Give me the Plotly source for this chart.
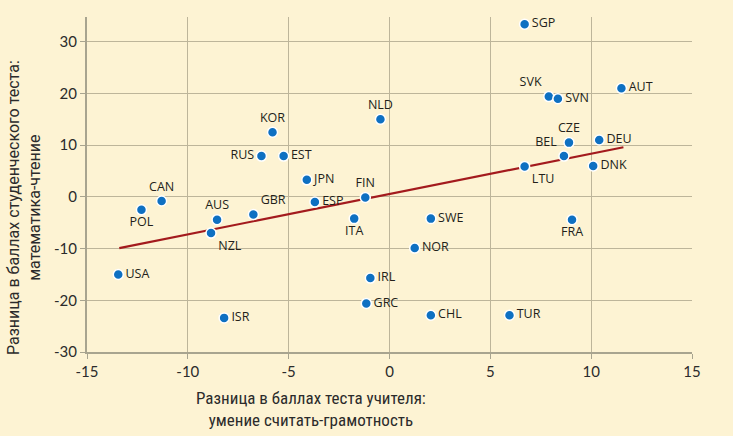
import plotly.graph_objects as go

countries = ["SGP", "SVK", "SVN", "AUT", "CZE", "DEU", "BEL", "LTU", "DNK",
             "KOR", "RUS", "EST", "NLD", "JPN", "FIN", "CAN", "POL", "AUS",
             "GBR", "NZL", "ESP", "ITA", "USA", "IRL", "GRC", "ISR", "SWE",
             "FRA", "NOR", "CHL", "TUR"]
teacher_diff = [6.7, 7.9, 8.35, 11.5, 8.9, 10.4, 8.65, 6.7, 10.1,
                -5.8, -6.35, -5.25, -0.45, -4.1, -1.2, -11.3, -12.3, -8.55,
                -6.75, -8.85, -3.7, -1.75, -13.45, -0.95, -1.15, -8.2, 2.05,
                9.05, 1.25, 2.05, 5.95]
student_diff = [33.4, 19.4, 19.0, 21.0, 10.5, 11.0, 7.9, 5.9, 6.0,
                12.5, 7.9, 7.9, 15.0, 3.3, -0.1, -0.8, -2.5, -4.4,
                -3.4, -7.0, -1.0, -4.2, -15.0, -15.7, -20.6, -23.4, -4.2,
                -4.4, -9.9, -22.9, -22.9]
label_pos = ["middle right", "top left", "middle right", "middle right", "top center",
             "middle right", "top left", "bottom right", "middle right",
             "top center", "middle left", "middle right", "top center", "middle right",
             "top center", "top center", "bottom center", "top center",
             "top right", "bottom right", "middle right", "bottom center", "middle right",
             "middle right", "middle right", "middle right", "middle right",
             "bottom center", "middle right", "middle right", "middle right"]

trend_x = [-13.4, 11.6]
trend_y = [-9.9, 9.6]

x_ticks = [-15, -10, -5, 0, 5, 10, 15]
x_tick_text = ["-15", "-10", "-5", "0", "5", "10", "15"]
y_ticks = [-30, -20, -10, 0, 10, 20, 30]
y_tick_text = ["-30", "-20", "-10", "0", "10", "20", "30"]

bg = "#FDF3D3"
grid = "#BDB59A"
axis_c = "#A8A48F"

fig = go.Figure()
fig.add_trace(go.Scatter(
    x=trend_x, y=trend_y, mode="lines",
    line=dict(color="#A31A1D", width=2.2),
    hoverinfo="skip", showlegend=False))
fig.add_trace(go.Scatter(
    x=teacher_diff, y=student_diff, mode="markers+text",
    text=countries, textposition=label_pos,
    textfont=dict(family="Open Sans, sans-serif", size=12.5, color="#231F1A", weight=500),
    marker=dict(color="#0E70C2", size=10, line=dict(color="#FFFFFF", width=1.5)),
    showlegend=False, cliponaxis=False))

fig.update_layout(
    width=733, height=436,
    paper_bgcolor=bg, plot_bgcolor=bg,
    margin=dict(l=87, r=41, t=17, b=84),
    font=dict(family="Lato, sans-serif", color="#2B2B2B"),
    annotations=[
        dict(text="Разница в баллах студенческого теста:<br>математика-чтение",
             xref="paper", yref="paper", x=-0.104, y=0.43, xanchor="center", yanchor="middle",
             textangle=-90, showarrow=False,
             font=dict(family="Roboto, sans-serif", size=16, color="#2B2B2B")),
        dict(text="Разница в баллах теста учителя:<br>умение считать-грамотность",
             xref="paper", yref="paper", x=0.37, y=-0.1, xanchor="center", yanchor="top",
             showarrow=False,
             font=dict(family="Liberation Sans Narrow, Roboto Condensed, sans-serif", size=17, color="#2B2B2B")),
    ],
)
fig.update_xaxes(
    range=[-15, 15], tickvals=x_ticks, ticktext=x_tick_text,
    showgrid=True, gridcolor=grid, gridwidth=1, zeroline=False,
    showline=True, linecolor=axis_c, linewidth=2,
    ticks="outside", ticklen=5, tickcolor=axis_c, tickwidth=1,
    tickfont=dict(size=15, color="#2B2B2B", family="Lato, sans-serif"))
fig.update_yaxes(
    range=[-30, 34.8], tickvals=y_ticks, ticktext=y_tick_text,
    showgrid=True, gridcolor=grid, gridwidth=1, zeroline=False,
    showline=True, linecolor=axis_c, linewidth=2,
    ticks="outside", ticklen=5, tickcolor=axis_c, tickwidth=1,
    tickfont=dict(size=15, color="#2B2B2B", family="Lato, sans-serif"))

fig.write_html("out.html", config={"displayModeBar": False},
               post_script="document.body.style.margin='0';document.body.style.background='" + bg + "';")
